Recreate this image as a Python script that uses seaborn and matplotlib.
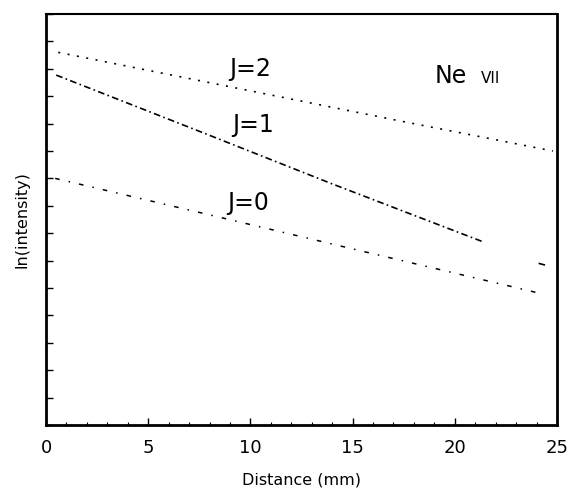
import numpy as np
import pandas as pd
import matplotlib
matplotlib.use("Agg")
import matplotlib.pyplot as plt
import seaborn as sns

# values (x in mm, y in ln units, axis 0..15 unlabeled)
j2_x = [0.6, 7.5, 17.3, 24.8]
j2_y = [13.6, 12.57, 11.1, 10.0]

j1_x = [0.5, 7.5, 14.0, 21.4]
j1_y = [12.77, 10.72, 8.8, 6.68]
j1_tail_x = [24.1, 24.5]
j1_tail_y = [5.90, 5.82]

j0_x = [0.45, 8.0, 16.0, 24.2]
j0_y = [9.0, 7.67, 6.25, 4.8]

x_ticks = [0, 5, 10, 15, 20, 25]
y_ticks = list(range(0, 16))

sns.set_style("ticks")
plt.rcParams['font.family'] = ['DejaVu Sans']
plt.rcParams['text.color'] = 'black'
plt.rcParams['axes.labelcolor'] = 'black'
plt.rcParams['xtick.color'] = 'black'
plt.rcParams['ytick.color'] = 'black'

fig = plt.figure(figsize=(5.72, 4.96), dpi=100)
ax = fig.add_axes([46 / 572, 71 / 496, 511 / 572, 411 / 496])

sns.lineplot(x=j2_x, y=j2_y, ax=ax, color='black', lw=1.2,
             linestyle=(0, (1.2, 4.5)))
sns.lineplot(x=j1_x, y=j1_y, ax=ax, color='black', lw=1.2,
             linestyle=(0, (4, 2, 1, 2)))
sns.lineplot(x=j1_tail_x, y=j1_tail_y, ax=ax, color='black', lw=1.2,
             linestyle=(0, (4, 2, 1, 2)))
sns.lineplot(x=j0_x, y=j0_y, ax=ax, color='black', lw=1.1,
             linestyle=(0, (3, 6, 1, 6)))

ax.set_xlim(0, 25)
ax.set_ylim(0, 15)
ax.set_xticks(x_ticks)
ax.set_xticks(np.arange(0, 26, 1), minor=True)
ax.set_yticks(y_ticks)
ax.set_yticklabels([])
ax.tick_params(axis='both', which='major', direction='in', length=5, width=1,
               labelsize=13, pad=10)
ax.tick_params(axis='x', which='minor', direction='in', length=2.5, width=0.8)
ax.tick_params(axis='y', which='major', length=5)

for side in ['left', 'bottom', 'right']:
    ax.spines[side].set_linewidth(2)
ax.spines['top'].set_linewidth(1.5)
for side in ax.spines:
    ax.spines[side].set_color('black')

ax.set_xlabel('Distance (mm)', fontsize=11.5, labelpad=11)
ax.set_ylabel('ln(intensity)', fontsize=11.5, labelpad=2)

ax.text(8.95, 12.74, 'J=2', fontsize=17, ha='left', va='baseline')
ax.text(9.1, 10.69, 'J=1', fontsize=17, ha='left', va='baseline')
ax.text(8.85, 7.85, 'J=0', fontsize=17, ha='left', va='baseline')
ax.text(19.0, 12.48, 'Ne', fontsize=17, ha='left', va='baseline')
ax.text(21.3, 12.48, 'VII', fontsize=11, ha='left', va='baseline')

fig.savefig('out.png', dpi=100)
